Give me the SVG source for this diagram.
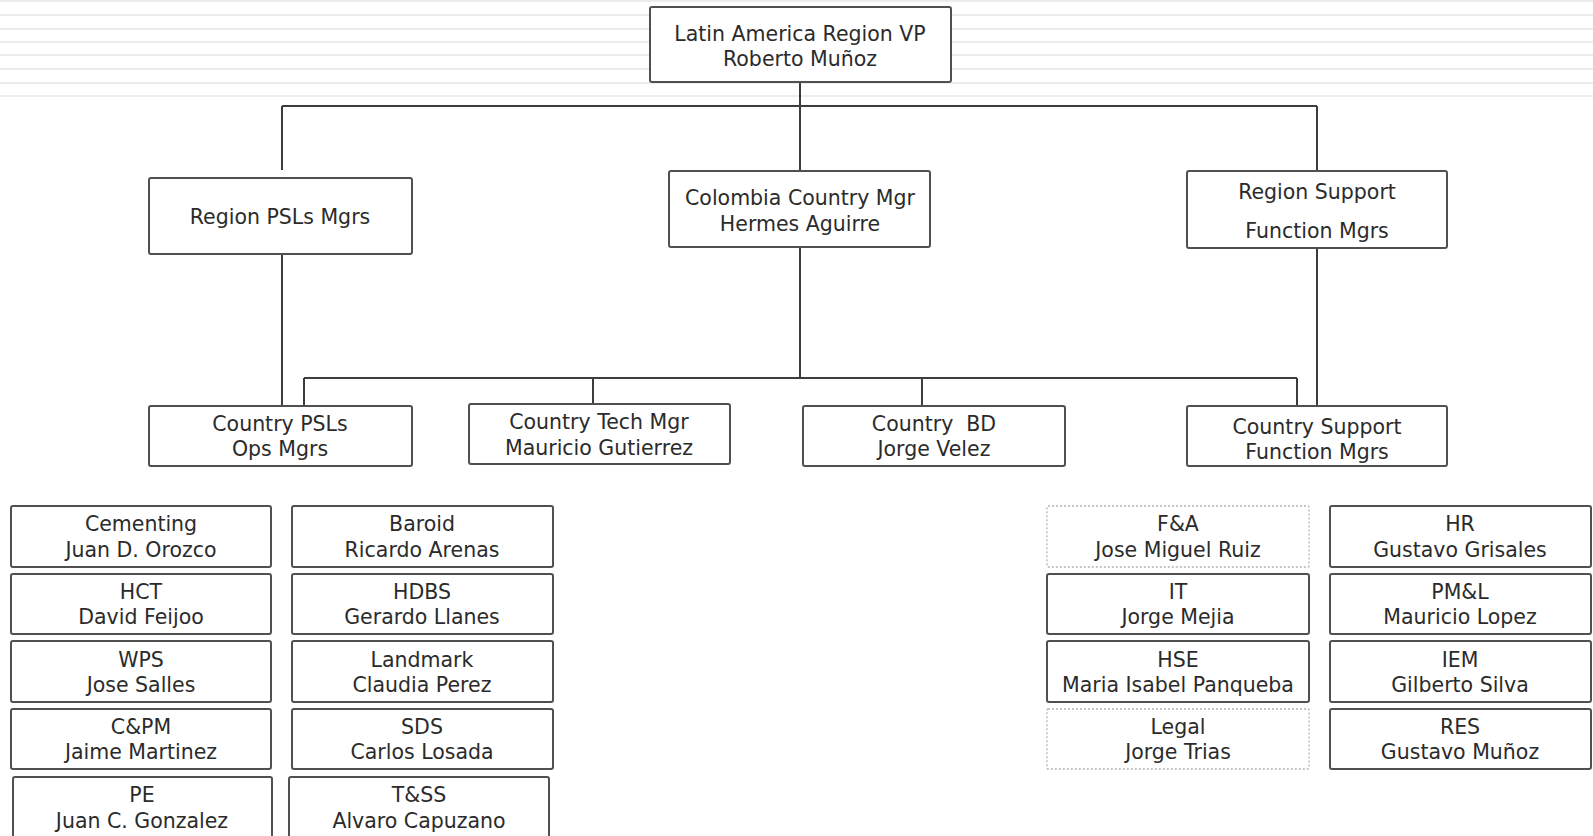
<svg xmlns="http://www.w3.org/2000/svg" width="1593" height="836" viewBox="0 0 1593 836">
<style>
.bg{stroke:#ececec;stroke-width:2}
.box{fill:#fff;stroke:#505050;stroke-width:2}
.dot{fill:#fff;stroke:#b4b4b4;stroke-width:1.3;stroke-dasharray:2 2}
.ln{fill:none;stroke:#3c3c3c;stroke-width:2}
text{font-family:"DejaVu Sans","Verdana",sans-serif;font-size:20.5px;fill:#2b2b2b;text-anchor:middle;white-space:pre}
</style>
<rect width="1593" height="836" fill="#fff"/>
<g id="background">
<line class="bg" x1="0" y1="1" x2="1593" y2="1"/>
<line class="bg" x1="0" y1="15" x2="1593" y2="15"/>
<line class="bg" x1="0" y1="29" x2="1593" y2="29"/>
<line class="bg" x1="0" y1="42" x2="1593" y2="42"/>
<line class="bg" x1="0" y1="55" x2="1593" y2="55"/>
<line class="bg" x1="0" y1="69" x2="1593" y2="69"/>
<line class="bg" x1="0" y1="83" x2="1593" y2="83"/>
<line class="bg" x1="0" y1="96" x2="1593" y2="96"/>
</g>
<g id="connectors">
<path class="ln" d="M800 82 V171"/>
<path class="ln" d="M282 106 H1317"/>
<path class="ln" d="M282 106 V170"/>
<path class="ln" d="M1317 106 V171"/>
<path class="ln" d="M282 254 V406"/>
<path class="ln" d="M800 247 V378"/>
<path class="ln" d="M304 378 H1297"/>
<path class="ln" d="M304 378 V406"/>
<path class="ln" d="M593 378 V404"/>
<path class="ln" d="M922 378 V406"/>
<path class="ln" d="M1297 378 V406"/>
<path class="ln" d="M1317 248 V406"/>
</g>
<g id="vp"><rect class="box" x="650" y="7" width="301" height="75" rx="2"/><text x="800" y="41">Latin America Region VP</text><text x="800" y="66">Roberto Muñoz</text></g>
<g id="region-psls"><rect class="box" x="149" y="178" width="263" height="76" rx="2"/><text x="280" y="224">Region PSLs Mgrs</text></g>
<g id="colombia"><rect class="box" x="669" y="171" width="261" height="76" rx="2"/><text x="800" y="205">Colombia Country Mgr</text><text x="800" y="230.5">Hermes Aguirre</text></g>
<g id="region-support"><rect class="box" x="1187" y="171" width="260" height="77" rx="2"/><text x="1317" y="199">Region Support</text><text x="1317" y="237.5">Function Mgrs</text></g>
<g id="country-psls"><rect class="box" x="149" y="406" width="263" height="60" rx="2"/><text x="280" y="430.5">Country PSLs</text><text x="280" y="456">Ops Mgrs</text></g>
<g id="country-tech"><rect class="box" x="469" y="404" width="261" height="60" rx="2"/><text x="599" y="428.5">Country Tech Mgr</text><text x="599" y="455">Mauricio Gutierrez</text></g>
<g id="country-bd"><rect class="box" x="803" y="406" width="262" height="60" rx="2"/><text x="934" y="430.5">Country  BD</text><text x="934" y="456">Jorge Velez</text></g>
<g id="country-support"><rect class="box" x="1187" y="406" width="260" height="60" rx="2"/><text x="1317" y="433.5">Country Support</text><text x="1317" y="459">Function Mgrs</text></g>

<g id="cementing"><rect class="box" x="11" y="506" width="260" height="61" rx="2"/><text x="141" y="531">Cementing</text><text x="141" y="557">Juan D. Orozco</text></g>
<g id="hct"><rect class="box" x="11" y="574" width="260" height="60" rx="2"/><text x="141" y="598.5">HCT</text><text x="141" y="624">David Feijoo</text></g>
<g id="wps"><rect class="box" x="11" y="641" width="260" height="61" rx="2"/><text x="141" y="666.5">WPS</text><text x="141" y="692">Jose Salles</text></g>
<g id="cpm"><rect class="box" x="11" y="709" width="260" height="60" rx="2"/><text x="141" y="734">C&amp;PM</text><text x="141" y="759">Jaime Martinez</text></g>
<g id="pe"><rect class="box" x="13" y="777" width="259" height="64" rx="2"/><text x="142" y="802">PE</text><text x="142" y="828">Juan C. Gonzalez</text></g>

<g id="baroid"><rect class="box" x="292" y="506" width="261" height="61" rx="2"/><text x="422" y="531">Baroid</text><text x="422" y="557">Ricardo Arenas</text></g>
<g id="hdbs"><rect class="box" x="292" y="574" width="261" height="60" rx="2"/><text x="422" y="598.5">HDBS</text><text x="422" y="624">Gerardo Llanes</text></g>
<g id="landmark"><rect class="box" x="292" y="641" width="261" height="61" rx="2"/><text x="422" y="666.5">Landmark</text><text x="422" y="692">Claudia Perez</text></g>
<g id="sds"><rect class="box" x="292" y="709" width="261" height="60" rx="2"/><text x="422" y="734">SDS</text><text x="422" y="759">Carlos Losada</text></g>
<g id="tss"><rect class="box" x="289" y="777" width="260" height="64" rx="2"/><text x="419" y="802">T&amp;SS</text><text x="419" y="828">Alvaro Capuzano</text></g>

<g id="fa"><rect class="dot" x="1047" y="506" width="262" height="61" rx="1"/><text x="1178" y="531">F&amp;A</text><text x="1178" y="557">Jose Miguel Ruiz</text></g>
<g id="it"><rect class="box" x="1047" y="574" width="262" height="60" rx="2"/><text x="1178" y="598.5">IT</text><text x="1178" y="624">Jorge Mejia</text></g>
<g id="hse"><rect class="box" x="1047" y="641" width="262" height="61" rx="2"/><text x="1178" y="666.5">HSE</text><text x="1178" y="692">Maria Isabel Panqueba</text></g>
<g id="legal"><rect class="dot" x="1047" y="709" width="262" height="60" rx="1"/><text x="1178" y="734">Legal</text><text x="1178" y="759">Jorge Trias</text></g>

<g id="hr"><rect class="box" x="1330" y="506" width="261" height="61" rx="2"/><text x="1460" y="531">HR</text><text x="1460" y="557">Gustavo Grisales</text></g>
<g id="pml"><rect class="box" x="1330" y="574" width="261" height="60" rx="2"/><text x="1460" y="598.5">PM&amp;L</text><text x="1460" y="624">Mauricio Lopez</text></g>
<g id="iem"><rect class="box" x="1330" y="641" width="261" height="61" rx="2"/><text x="1460" y="666.5">IEM</text><text x="1460" y="692">Gilberto Silva</text></g>
<g id="res"><rect class="box" x="1330" y="709" width="261" height="60" rx="2"/><text x="1460" y="734">RES</text><text x="1460" y="759">Gustavo Muñoz</text></g>
</svg>
